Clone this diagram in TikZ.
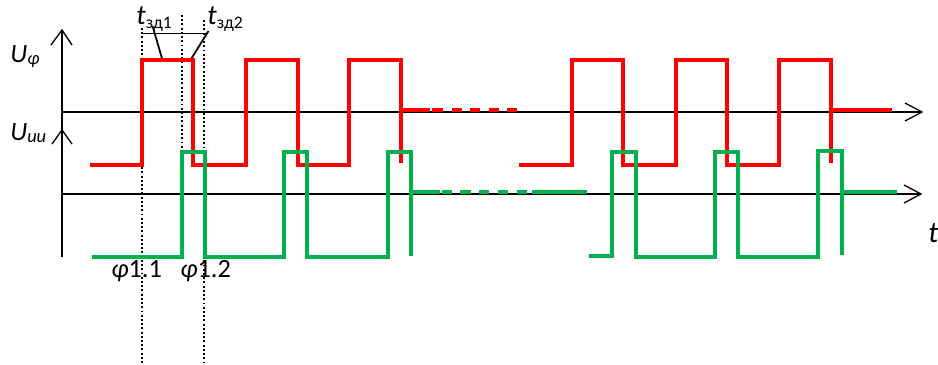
\documentclass[tikz,border=0pt]{standalone}
\usepackage{fontspec}
\setmainfont{Carlito}
\newcommand{\fsz}[1]{\fontsize{#1}{#1}\selectfont}
\begin{document}
\begin{tikzpicture}[x=0.02cm,y=-0.02cm,
  axis/.style={line width=0.75pt,black},
  redsig/.style={line width=2pt,red!100,line join=miter},
  greensig/.style={line width=2pt,sgreen,line join=miter},
  dotline/.style={line width=0.8pt,black,dash pattern=on 1.1pt off 1.3pt},
  lbl/.style={inner sep=0pt,anchor=base west}]
\definecolor{sgreen}{HTML}{00B050}
\useasboundingbox (0,0) rectangle (938,365);
% axes
\draw[axis] (62,257) -- (62,30);
\draw[axis] (51,45) -- (62,30) -- (72,45);
\draw[axis] (52,144) -- (62,130) -- (72,144);
\draw[axis] (62,112) -- (922,112);
\draw[axis] (905,103) -- (922,112) -- (905,121);
\draw[axis] (62,194) -- (921,194);
\draw[axis] (904,185) -- (921,194) -- (904,203);
% dotted guides
\draw[dotline] (142,28) -- (142,365);
\draw[dotline] (182,15) -- (182,152);
\draw[dotline] (204,20) -- (204,365);
% t labels pointers
\draw[axis,line width=0.9pt] (142,33.5) -- (206,33.5);
\draw[axis,line width=1pt] (152.5,26) -- (162.5,60);
\draw[axis,line width=1pt] (208.5,31) -- (190.5,60);
% red signal
\draw[redsig] (90,165) -- (142,165) -- (142,60) -- (193,60) -- (193,165) -- (246,165) -- (246,60) -- (298,60) -- (298,165) -- (349,165) -- (349,60) -- (401,60) -- (401,163);
\draw[redsig] (401,110) -- (430,110);
\foreach \a/\b in {432/443,452/462,470/480,489/499,507/517}
  \draw[redsig] (\a,110) -- (\b,110);
\draw[redsig] (519,165) -- (572,165) -- (572,60) -- (623,60) -- (623,165) -- (676,165) -- (676,60) -- (727,60) -- (727,165) -- (779,165) -- (779,60) -- (831,60) -- (831,163);
\draw[redsig] (831,110) -- (892,110);
% green signal
\draw[greensig] (92,257) -- (182,257) -- (182,152) -- (205,152) -- (205,257) -- (284,257) -- (284,152) -- (307,152) -- (307,257) -- (388,257) -- (388,152) -- (411,152) -- (411,256);
\draw[greensig] (411,192) -- (440,192);
\foreach \a/\b in {442/452,460/471,479/489,498/508,517/527}
  \draw[greensig] (\a,192) -- (\b,192);
\draw[greensig] (532,192) -- (587,192);
\draw[greensig] (589,256) -- (612,256) -- (612,152) -- (636,152) -- (636,257) -- (715,257) -- (715,152) -- (738,152) -- (738,257) -- (818,257) -- (818,151) -- (842,151) -- (842,255);
\draw[greensig] (842,192) -- (897,192);
% labels
\node[lbl] (uphi) at (10,62) {\fsz{15}\textit{U}\raisebox{-1.5pt}{\fsz{10.5}\textit{φ}}};
\node[lbl] (uii) at (10,140) {\fsz{15}\textit{U}\raisebox{-1.5pt}{\fsz{10.5}\textit{ии}}};
\node[lbl] (t1) at (136,25) {\fsz{16}\textit{t}\raisebox{-2pt}{\fsz{10}зд1}};
\node[lbl] (t2) at (207,25) {\fsz{16}\textit{t}\raisebox{-2pt}{\fsz{10}зд2}};
\node[lbl] (tt) at (928,242) {\fsz{17}\textit{t}};
\node[lbl] (p11) at (111,277) {\fsz{15}\textit{φ}1.1};
\node[lbl] (p12) at (180,277) {\fsz{15}\textit{φ}1.2};
\end{tikzpicture}
\end{document}
